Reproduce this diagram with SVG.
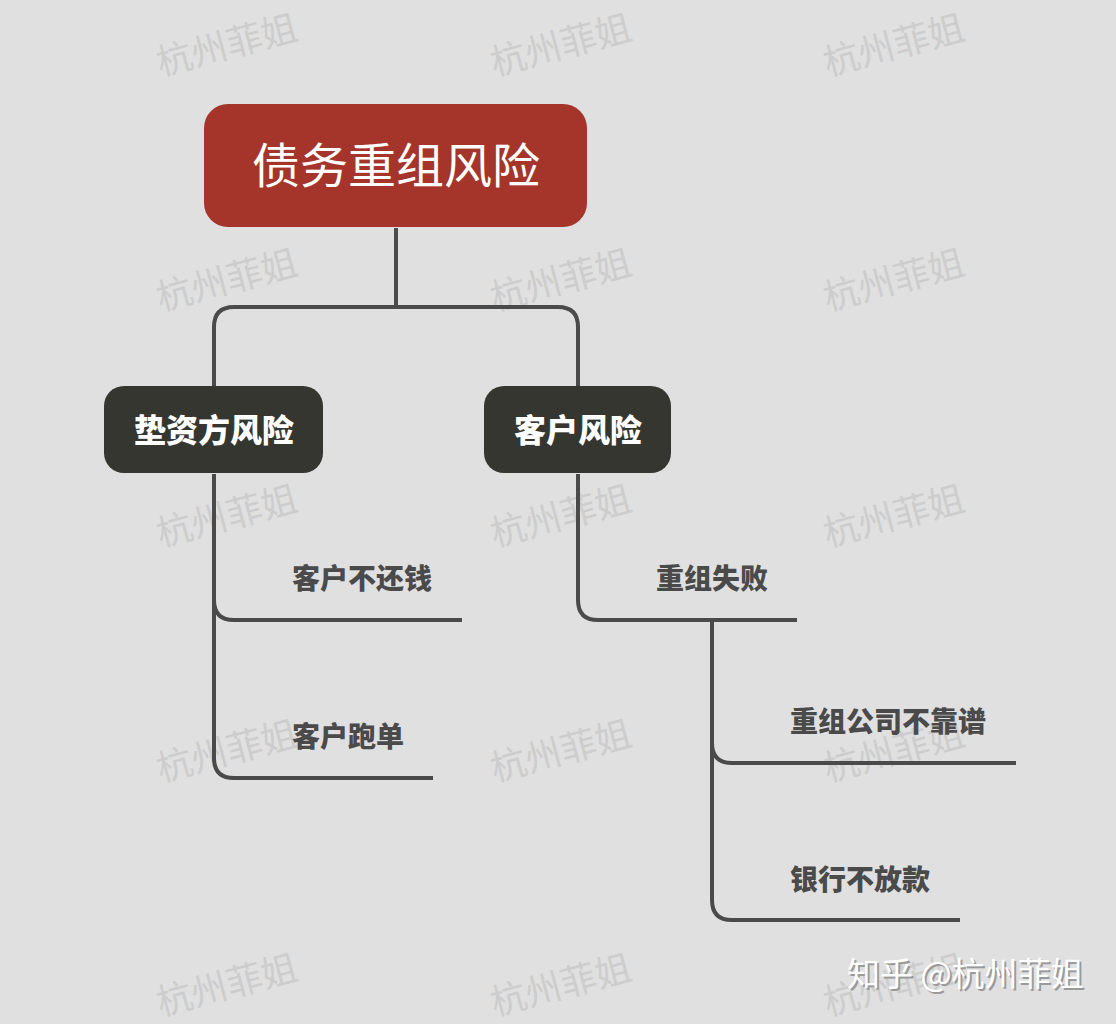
<svg xmlns="http://www.w3.org/2000/svg" width="1116" height="1024" viewBox="0 0 1116 1024">
<defs>
<style>
.wm{font-family:"Noto Sans CJK SC","Noto Sans",sans-serif;font-size:36px;fill:#cdcdcd;text-anchor:middle;dominant-baseline:central}
.root-t{font-family:"Noto Sans CJK SC","Noto Sans",sans-serif;font-size:48px;fill:#ffffff;text-anchor:middle;dominant-baseline:central}
.mid-t{font-family:"Noto Sans CJK SC","Noto Sans",sans-serif;font-size:32px;font-weight:900;fill:#ffffff;text-anchor:middle;dominant-baseline:central}
.leaf-t{font-family:"Noto Sans CJK SC","Noto Sans",sans-serif;font-size:28px;font-weight:900;fill:#4a4a4a;dominant-baseline:central}
.conn{fill:none;stroke:#4a4a4a;stroke-width:4;stroke-linecap:butt}
.sig{font-family:"Noto Sans CJK SC","Noto Sans",sans-serif;font-size:33px;fill:#ffffff}
.sig-s{font-family:"Noto Sans CJK SC","Noto Sans",sans-serif;font-size:33px;fill:#9a9a9a}
</style>
</defs>
<rect x="0" y="0" width="1116" height="1024" fill="#e0e0e0"/>
<g id="watermarks">
<text class="wm" transform="translate(226,42) rotate(-15)">杭州菲姐</text>
<text class="wm" transform="translate(560,42) rotate(-15)">杭州菲姐</text>
<text class="wm" transform="translate(893,42) rotate(-15)">杭州菲姐</text>
<text class="wm" transform="translate(226,277) rotate(-15)">杭州菲姐</text>
<text class="wm" transform="translate(560,277) rotate(-15)">杭州菲姐</text>
<text class="wm" transform="translate(893,277) rotate(-15)">杭州菲姐</text>
<text class="wm" transform="translate(226,513) rotate(-15)">杭州菲姐</text>
<text class="wm" transform="translate(560,513) rotate(-15)">杭州菲姐</text>
<text class="wm" transform="translate(893,513) rotate(-15)">杭州菲姐</text>
<text class="wm" transform="translate(226,748) rotate(-15)">杭州菲姐</text>
<text class="wm" transform="translate(560,748) rotate(-15)">杭州菲姐</text>
<text class="wm" transform="translate(893,748) rotate(-15)">杭州菲姐</text>
<text class="wm" transform="translate(226,982) rotate(-15)">杭州菲姐</text>
<text class="wm" transform="translate(560,982) rotate(-15)">杭州菲姐</text>
<text class="wm" transform="translate(893,982) rotate(-15)">杭州菲姐</text>
</g>
<g id="connectors">
<path class="conn" d="M396,228 V307"/>
<path class="conn" d="M214,386 V327 Q214,307 234,307 H558 Q578,307 578,327 V386"/>
<path class="conn" d="M214,474 V758 Q214,778 234,778 H433"/>
<path class="conn" d="M214,600 Q214,620 234,620 H462"/>
<path class="conn" d="M578,474 V600 Q578,620 598,620 H797"/>
<path class="conn" d="M712,620 V900 Q712,920 732,920 H960"/>
<path class="conn" d="M712,743 Q712,763 732,763 H1016"/>
</g>
<g id="node-root">
<rect x="204" y="104" width="383" height="123" rx="24" fill="#a5352a"/>
<text class="root-t" x="396" y="162">债务重组风险</text>
</g>
<g id="node-dianzifang">
<rect x="104" y="386" width="219" height="87" rx="20" fill="#363631"/>
<text class="mid-t" x="214" y="428">垫资方风险</text>
</g>
<g id="node-kehu">
<rect x="484" y="386" width="187" height="87" rx="20" fill="#363631"/>
<text class="mid-t" x="578" y="428">客户风险</text>
</g>
<g id="node-buhuanqian">
<text class="leaf-t" x="292" y="577">客户不还钱</text>
</g>
<g id="node-paodan">
<text class="leaf-t" x="292" y="735">客户跑单</text>
</g>
<g id="node-shibai">
<text class="leaf-t" x="656" y="577">重组失败</text>
</g>
<g id="node-bukaopu">
<text class="leaf-t" x="790" y="720">重组公司不靠谱</text>
</g>
<g id="node-bufangkuan">
<text class="leaf-t" x="790" y="878">银行不放款</text>
</g>
<g id="signature">
<text class="sig-s" x="849" y="988">知乎 @杭州菲姐</text>
<text class="sig" x="847" y="986">知乎 @杭州菲姐</text>
</g>
</svg>
